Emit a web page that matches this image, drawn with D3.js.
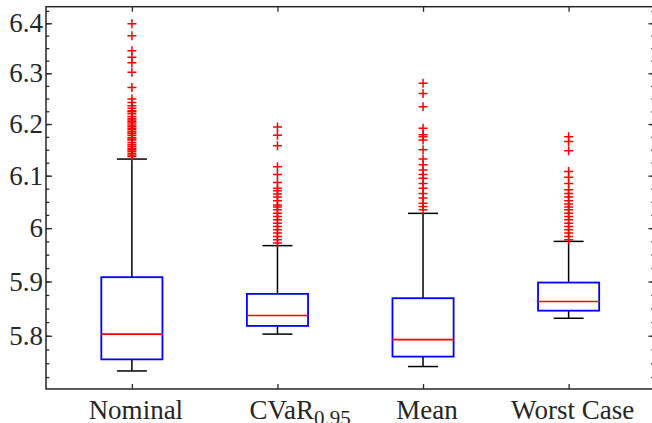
<!DOCTYPE html>
<html>
<head>
<meta charset="utf-8">
<script src="https://cdn.jsdelivr.net/npm/d3@7/dist/d3.min.js"></script>
<style>
  body { margin: 0; background: #fff; }
  svg { display: block; }
  text { font-family: "Liberation Serif", "Times New Roman", serif; fill: #262626; }
</style>
</head>
<body>
<svg id="chart" width="652" height="423"></svg>
<script>
// Data
const categories = ['Nominal', 'CVaR', 'Mean', 'Worst Case'];
const q1Values = [5.757, 5.818, 5.762, 5.846];
const medianValues = [5.803, 5.837, 5.793, 5.863];
const q3Values = [5.908, 5.877, 5.869, 5.898];
const whiskerLow = [5.736, 5.803, 5.744, 5.832];
const whiskerHigh = [6.132, 5.967, 6.028, 5.975];

const outliersNominal = [6.399, 6.375, 6.345, 6.332, 6.321, 6.302, 6.272, 6.249, 6.242, 6.236,
  6.231, 6.226, 6.224, 6.220, 6.215, 6.211, 6.208, 6.205, 6.202, 6.198, 6.195, 6.192, 6.189,
  6.185, 6.182, 6.178, 6.174, 6.171, 6.169, 6.164, 6.160, 6.157, 6.153, 6.150, 6.147, 6.143,
  6.140, 6.137];
const outliersCVaR = [6.194, 6.178, 6.158, 6.117, 6.102, 6.087, 6.076, 6.071, 6.065, 6.059,
  6.052, 6.044, 6.040, 6.035, 6.028, 6.022, 6.016, 6.009, 6.003, 5.997, 5.991, 5.984, 5.978,
  5.972];
const outliersMean = [6.280, 6.260, 6.234, 6.192, 6.179, 6.175, 6.169, 6.150, 6.132, 6.121,
  6.111, 6.102, 6.095, 6.085, 6.076, 6.066, 6.057, 6.047, 6.041, 6.035];
const outliersWorst = [6.175, 6.166, 6.148, 6.108, 6.097, 6.085, 6.073, 6.066, 6.059, 6.052,
  6.046, 6.040, 6.035, 6.028, 6.022, 6.016, 6.009, 6.003, 5.997, 5.991, 5.984, 5.978];

const yTickLabels = [5.8, 5.9, 6.0, 6.1, 6.2, 6.3, 6.4];

function boxplotInit() {
  const svg = d3.select('#chart');

  const left = 46;
  const right = 654.5;
  const top = 6.7;
  const bottom = 389;

  const xScale = d3.scaleLinear().domain([0.41, 4.59]).range([left, right]);
  // the reference y axis is logarithmic
  const yScale = d3.scaleLog().domain([5.7035, 6.4335]).range([bottom, top]);

  const boxHalf = 0.21;
  const capHalf = 0.103;
  const axisColor = '#262626';

  const minorTicks = d3.range(229, 258).map((k) => k * 0.025);

  // axes (box on all four sides, ticks pointing in)
  const axisLeft = d3.axisRight(yScale).tickValues(yTickLabels).tickSize(6).tickFormat('');
  const axisLeftMinor = d3.axisRight(yScale).tickValues(minorTicks).tickSize(3.3).tickFormat('');
  const axisRight = d3.axisLeft(yScale).tickValues(yTickLabels).tickSize(6).tickFormat('');
  const axisRightMinor = d3.axisLeft(yScale).tickValues(minorTicks).tickSize(3.3).tickFormat('');
  const catTicks = categories.map((c, i) => i + 1);
  const axisBottom = d3.axisTop(xScale).tickValues(catTicks).tickSize(5).tickFormat('');
  const axisTop = d3.axisBottom(xScale).tickValues(catTicks).tickSize(5).tickFormat('');

  const gAxes = svg.append('g').attr('class', 'axes');
  gAxes.append('g').attr('transform', `translate(${left},0)`).call(axisLeftMinor);
  gAxes.append('g').attr('transform', `translate(${left},0)`).call(axisLeft);
  gAxes.append('g').attr('transform', `translate(${right},0)`).call(axisRightMinor);
  gAxes.append('g').attr('transform', `translate(${right},0)`).call(axisRight);
  gAxes.append('g').attr('transform', `translate(0,${bottom})`).call(axisBottom);
  gAxes.append('g').attr('transform', `translate(0,${top})`).call(axisTop);
  gAxes.selectAll('.domain').remove();
  gAxes.selectAll('line').attr('stroke', axisColor).attr('stroke-width', 1.3);

  gAxes.append('rect')
    .attr('x', left)
    .attr('y', top)
    .attr('width', right - left)
    .attr('height', bottom - top)
    .attr('fill', 'none')
    .attr('stroke', axisColor)
    .attr('stroke-width', 1.5);

  // y tick labels
  svg.append('g')
    .selectAll('text')
    .data(yTickLabels)
    .join('text')
    .attr('x', left - 3)
    .attr('y', (d) => yScale(d))
    .attr('dy', '0.34em')
    .attr('text-anchor', 'end')
    .attr('font-size', 27)
    .text((d) => String(+d.toFixed(1)));

  // x tick labels
  const xLabels = svg.append('g');
  categories.forEach((c, i) => {
    const cx = xScale(i + 1);
    if (c === 'CVaR') {
      const t = xLabels.append('text')
        .attr('x', cx - 28)
        .attr('y', 419)
        .attr('font-size', 27);
      t.append('tspan').text('CVaR');
      t.append('tspan').attr('dy', 6).attr('font-size', 21).text('0.95');
    } else {
      xLabels.append('text')
        .attr('x', cx + 4)
        .attr('y', 419)
        .attr('text-anchor', 'middle')
        .attr('font-size', 27)
        .text(c);
    }
  });

  // boxes
  const boxes = categories.map((c, i) => ({
    pos: i + 1,
    q1: q1Values[i],
    med: medianValues[i],
    q3: q3Values[i],
    lo: whiskerLow[i],
    hi: whiskerHigh[i],
  }));

  const gBox = svg.append('g').selectAll('g').data(boxes).join('g');

  // whiskers
  gBox.append('line')
    .attr('x1', (d) => xScale(d.pos)).attr('x2', (d) => xScale(d.pos))
    .attr('y1', (d) => yScale(d.q3)).attr('y2', (d) => yScale(d.hi))
    .attr('stroke', '#000').attr('stroke-width', 1.5);
  gBox.append('line')
    .attr('x1', (d) => xScale(d.pos)).attr('x2', (d) => xScale(d.pos))
    .attr('y1', (d) => yScale(d.q1)).attr('y2', (d) => yScale(d.lo))
    .attr('stroke', '#000').attr('stroke-width', 1.5);
  // caps
  gBox.append('line')
    .attr('x1', (d) => xScale(d.pos - capHalf)).attr('x2', (d) => xScale(d.pos + capHalf))
    .attr('y1', (d) => yScale(d.hi)).attr('y2', (d) => yScale(d.hi))
    .attr('stroke', '#000').attr('stroke-width', 1.5);
  gBox.append('line')
    .attr('x1', (d) => xScale(d.pos - capHalf)).attr('x2', (d) => xScale(d.pos + capHalf))
    .attr('y1', (d) => yScale(d.lo)).attr('y2', (d) => yScale(d.lo))
    .attr('stroke', '#000').attr('stroke-width', 1.5);

  // box
  gBox.append('rect')
    .attr('x', (d) => xScale(d.pos - boxHalf))
    .attr('width', (d) => xScale(d.pos + boxHalf) - xScale(d.pos - boxHalf))
    .attr('y', (d) => yScale(d.q3))
    .attr('height', (d) => yScale(d.q1) - yScale(d.q3))
    .attr('fill', 'none')
    .attr('stroke', '#0000ff')
    .attr('stroke-width', 1.8);

  // median
  gBox.append('line')
    .attr('x1', (d) => xScale(d.pos - boxHalf)).attr('x2', (d) => xScale(d.pos + boxHalf))
    .attr('y1', (d) => yScale(d.med)).attr('y2', (d) => yScale(d.med))
    .attr('stroke', '#ff0000').attr('stroke-width', 1.6);

  // outliers
  const outlierSets = [outliersNominal, outliersCVaR, outliersMean, outliersWorst];
  const points = [];
  outlierSets.forEach((arr, i) => arr.forEach((v) => points.push({ pos: i + 1, v })));

  svg.append('g')
    .selectAll('path')
    .data(points)
    .join('path')
    .attr('transform', (d) => `translate(${xScale(d.pos)},${yScale(d.v)})`)
    .attr('d', 'M-4.5,0H4.5M0,-4.5V4.5')
    .attr('stroke', '#ff0000')
    .attr('stroke-width', 1.5)
    .attr('fill', 'none');
}

window.onload = boxplotInit;
</script>
</body>
</html>
